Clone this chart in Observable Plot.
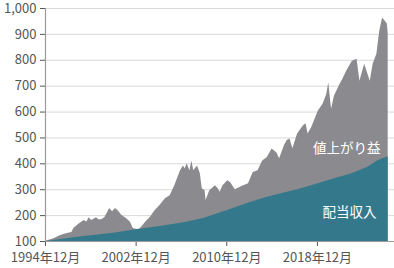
<!DOCTYPE html>
<html>
<head>
<meta charset="utf-8">
<script src="https://cdn.jsdelivr.net/npm/d3@7"></script>
<script src="https://cdn.jsdelivr.net/npm/@observablehq/plot@0.6"></script>
<style>
  html, body { margin: 0; padding: 0; background: #fff; }
  #chart svg { display: block; }
</style>
</head>
<body>
<div id="chart"></div>
<script>
// Total value (配当収入 + 値上がり益)
const totalMonths = ["1994-12","1995-03","1995-09","1996-04","1996-11","1997-04","1997-06","1997-12","1998-05","1998-08","1998-10","1999-01","1999-06","1999-09","1999-12","2000-03","2000-08","2000-11","2001-02","2001-05","2001-09","2002-02","2002-06","2002-09","2003-01","2003-04","2003-07","2003-10","2004-03","2004-08","2005-01","2005-07","2005-12","2006-05","2006-11","2007-02","2007-04","2007-06","2007-09","2007-11","2008-01","2008-05","2008-08","2008-10","2009-01","2009-02","2009-06","2009-12","2010-03","2010-05","2010-08","2011-01","2011-04","2011-09","2012-04","2012-11","2013-04","2013-09","2014-02","2014-07","2014-12","2015-05","2015-08","2015-11","2016-01","2016-04","2016-07","2016-10","2017-03","2017-09","2017-12","2018-02","2018-06","2019-01","2019-06","2019-10","2019-12","2020-03","2020-06","2020-12","2021-03","2021-07","2022-01","2022-06","2022-09","2023-02","2023-08","2023-11","2024-03","2024-06","2024-09","2024-12","2025-02","2025-03"];
const totalValues = [100,104,111,123,131,135,150,169,181,175,192,181,192,183,185,193,227,215,227,219,200,188,174,150,146,148,160,174,193,219,238,265,277,315,373,392,381,400,373,411,373,392,362,304,296,258,296,315,304,290,315,335,328,300,312,323,367,373,411,424,457,443,420,450,470,490,496,458,515,546,555,515,540,604,630,669,713,611,661,707,727,758,796,804,719,785,719,785,823,912,963,950,940,905];

// Dividend income (配当収入)
const divMonths = ["1994-12","1997-12","2000-12","2002-12","2005-03","2007-03","2008-12","2010-12","2013-01","2014-06","2016-01","2017-06","2018-12","2020-05","2021-11","2023-05","2024-04","2025-03"];
const divValues = [100,117,132,145,159,172,190,219,251,270,287,303,322,341,360,386,412,427];

// Axis ticks
const xTickMonths = ["1994-12","2002-12","2010-12","2018-12"];
const yTicks = [100,200,300,400,500,600,700,800,900,1000];

const parse = d3.utcParse("%Y-%m");
const total = totalMonths.map((m, i) => ({date: parse(m), value: totalValues[i]}));
const dividend = divMonths.map((m, i) => ({date: parse(m), value: divValues[i]}));

const font = "'Noto Sans CJK JP', 'Noto Sans', sans-serif";

const chart = Plot.plot({
  width: 394,
  height: 268,
  marginLeft: 45,
  marginRight: 0,
  marginTop: 8,
  marginBottom: 27,
  style: {fontFamily: font, fontSize: "13px", color: "#555", background: "#fff"},
  x: {
    type: "utc",
    domain: [parse("1994-12"), new Date(Date.UTC(2025, 8, 20))],
    ticks: xTickMonths.map(parse),
    tickFormat: d => `${d.getUTCFullYear()}年${d.getUTCMonth() + 1}月`,
    tickSize: 5,
    tickPadding: 6,
    label: null
  },
  y: {
    domain: [100, 1000],
    ticks: yTicks,
    tickFormat: d3.format(","),
    tickSize: 5,
    tickPadding: 4,
    label: null
  },
  marks: [
    Plot.gridY(yTicks, {stroke: "#d9d9d9", strokeOpacity: 1, strokeWidth: 1}),
    Plot.areaY(total, {x: "date", y1: 100, y2: "value", fill: "#8b8b8f"}),
    Plot.areaY(dividend, {x: "date", y1: 100, y2: "value", fill: "#34798b"}),
    Plot.ruleY([100], {stroke: "#9a9a9a", strokeWidth: 1.2}),
    Plot.ruleX([parse("1994-12")], {stroke: "#9a9a9a", strokeWidth: 1.2}),
    Plot.text(["値上がり益"], {frameAnchor: "bottom-right", textAnchor: "end", lineAnchor: "middle", dx: -14, dy: -93, fill: "#fff", fontSize: 13.5, fontFamily: font}),
    Plot.text(["配当収入"], {frameAnchor: "bottom-right", textAnchor: "end", lineAnchor: "middle", dx: -18, dy: -29, fill: "#fff", fontSize: 13.5, fontFamily: font})
  ]
});
document.getElementById("chart").appendChild(chart);
</script>
</body>
</html>
